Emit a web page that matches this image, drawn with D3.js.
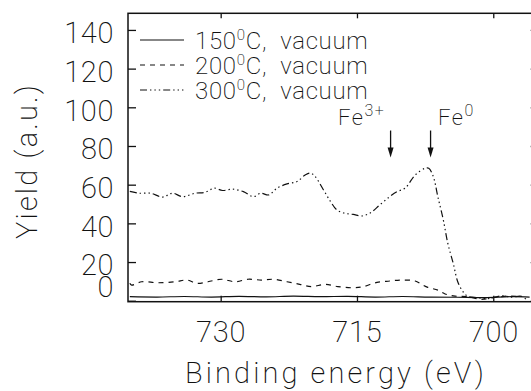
<!DOCTYPE html>
<html><head><meta charset="utf-8">
<script src="https://cdn.jsdelivr.net/npm/d3@7/dist/d3.min.js"></script>
<style>
html,body{margin:0;padding:0;background:#fff;}
svg{display:block;}
text{font-family:Roboto,"DejaVu Sans",sans-serif;font-weight:200;fill:#111;}
</style></head><body>
<svg id="c" width="531" height="391"></svg>
<script>
// ---- data ----
const xTicks = [730, 715, 700];
const yTicks = [0, 20, 40, 60, 80, 100, 120, 140];
const seriesNames = ["150", "200", "300"];
const energy150 = [740,737,734,731,728,725,722,719,716,713,710,707,704,701,698,696];
const yield150  = [2.1,1.9,2.2,1.9,2.3,2.0,2.4,2.1,2.3,1.9,2.2,1.9,1.8,1.6,2.1,1.9];
const energy200 = [740,739.8,738.7,736.9,735.0,733.7,732.6,731.4,729.9,728.4,727.0,725.5,724.2,722.7,721.3,720.0,718.5,717.1,715.4,714.3,712.8,711.4,710.1,708.6,707.9,707.2,706.1,705.3,704.2,702.8,701.3,699.8,698.3,696.9];
const yield200  = [9.0,8.1,9.8,9.3,9.8,10.7,9.0,9.8,11.1,9.8,11.1,10.7,11.1,9.8,8.5,7.3,8.5,7.3,6.7,7.3,9.5,10.2,10.7,10.2,8.5,6.9,5.5,3.5,2.4,2.1,0.7,1.8,2.4,2.1];
const energy300 = [740,739,737.7,736.4,735.3,734.2,732.8,731.7,730.7,729.8,728.7,727.5,726.4,725.6,724.7,723.8,722.7,721.6,720.7,720.1,719.6,718.7,717.9,717.2,716.3,715.4,714.5,713.5,712.5,711.4,710.6,709.7,708.6,707.5,707.1,706.6,706.1,705.5,705.0,704.4,703.9,703.3,702.8,701.7,700.6,699.1,698.0,696.9,696.2];
const yield300  = [56.5,55.6,55.6,53.6,55.6,53.8,55.6,56.1,58.2,57.0,57.7,56.4,53.8,55.6,54.7,58.2,60.4,61.6,65.0,66.0,64.2,57.4,51.2,46.9,45.2,44.6,43.8,45.5,49.5,53.8,56.4,58.2,65.0,68.5,68.5,64.2,53.8,41.8,29.6,19.2,9.7,4.5,2.3,1.6,1.1,2.5,1.9,2.3,0.0];
const annotLabels = ["Fe", "Fe"];
const annotSups = ["3+", "0"];
const annotEnergy = [711.3, 706.9];
const arrowTop = 88, arrowTip = 74;

// ---- layout ----
const svg = d3.select("#c");
const x = d3.scaleLinear().domain([740.2, 695]).range([128, 538.7]);
const y = d3.scaleLinear().domain([-0.5, 148.6]).range([301.7, 13.3]);

const series = [
  {name: seriesNames[0], e: energy150, v: yield150, dash: null},
  {name: seriesNames[1], e: energy200, v: yield200, dash: "5,5"},
  {name: seriesNames[2], e: energy300, v: yield300, dash: "7,3,1.4,3,1.4,3,1.4,3"}
];

const line = d3.line().x(d => x(d[0])).y(d => y(d[1])).curve(d3.curveCatmullRom);
series.forEach(s => {
  svg.append("path")
    .attr("d", line(s.e.map((e, i) => [e, s.v[i]])))
    .attr("fill", "none").attr("stroke", "#111").attr("stroke-width", 1.2)
    .attr("stroke-dasharray", s.dash);
});

// frame
svg.append("rect").attr("x", x(740.2)).attr("y", y(148.6))
  .attr("width", x(695) - x(740.2)).attr("height", y(-0.5) - y(148.6))
  .attr("fill", "none").attr("stroke", "#111").attr("stroke-width", 1.5);

// axes
const tl = 8;
const gB = svg.append("g").attr("transform", `translate(0,${y(-0.5)})`)
  .call(d3.axisBottom(x).tickValues(xTicks).tickSize(-6).tickFormat(d3.format("d")).tickPadding(20));
const gT = svg.append("g").attr("transform", `translate(0,${y(148.6)})`)
  .call(d3.axisTop(x).tickValues(xTicks).tickSize(-5).tickFormat(""));
const gL = svg.append("g").attr("transform", `translate(${x(740.2)},0)`)
  .call(d3.axisLeft(y).tickValues(yTicks).tickSize(-tl).tickPadding(14));
const gR = svg.append("g").attr("transform", `translate(${x(695)},0)`)
  .call(d3.axisRight(y).tickValues(yTicks).tickSize(-tl).tickFormat(""));
[gB, gT, gL, gR].forEach(g => {
  g.select(".domain").remove();
  g.selectAll(".tick line").attr("stroke", "#111").attr("stroke-width", 1.3);
});
gB.selectAll(".tick text").attr("font-size", 29).attr("font-family", null).attr("fill", "#111")
  .attr("letter-spacing", 0.8);
gL.selectAll(".tick text").attr("font-size", 29).attr("font-family", null).attr("fill", "#111")
  .attr("letter-spacing", 0.6)
  .attr("dy", d => d === 0 ? "-0.16em" : "0.44em");

// axis titles
svg.append("text").attr("x", 336).attr("y", 383).attr("text-anchor", "middle")
  .attr("font-size", 29).attr("letter-spacing", 3.1).text("Binding energy (eV)");
svg.append("text").attr("transform", "translate(37,161) rotate(-90)").attr("text-anchor", "middle")
  .attr("font-size", 29).attr("letter-spacing", 2.2).text("Yield (a.u.)");

// legend
series.forEach((s, i) => {
  const ry = 40 + i * 25;
  svg.append("line").attr("x1", 140).attr("x2", 184).attr("y1", ry).attr("y2", ry)
    .attr("stroke", "#111").attr("stroke-width", 1.2).attr("stroke-dasharray", s.dash);
  const t = svg.append("text").attr("x", 195).attr("y", ry + 9).attr("font-size", 24)
    .attr("letter-spacing", 0.7).attr("xml:space", "preserve");
  t.append("tspan").text(s.name);
  t.append("tspan").attr("dy", -9).attr("font-size", 15).text("0");
  t.append("tspan").attr("dy", 9).text("C,  vacuum");
});

// annotations
annotEnergy.forEach((e, i) => {
  const ax = x(e);
  svg.append("line").attr("x1", ax).attr("x2", ax).attr("y1", y(arrowTop)).attr("y2", y(arrowTip) - 8)
    .attr("stroke", "#111").attr("stroke-width", 1.3);
  svg.append("path")
    .attr("d", `M${ax - 3},${y(arrowTip) - 10} L${ax + 3},${y(arrowTip) - 10} L${ax},${y(arrowTip)} Z`)
    .attr("fill", "#111");
});
const f1 = svg.append("text").attr("x", 338).attr("y", 125).attr("font-size", 22).attr("letter-spacing", 1.5);
f1.append("tspan").text(annotLabels[0]);
f1.append("tspan").attr("dy", -9).attr("font-size", 16).text(annotSups[0]);
const f2 = svg.append("text").attr("x", 438).attr("y", 125).attr("font-size", 22).attr("letter-spacing", 1.5);
f2.append("tspan").text(annotLabels[1]);
f2.append("tspan").attr("dy", -9).attr("font-size", 16).text(annotSups[1]);
</script>
</body></html>
